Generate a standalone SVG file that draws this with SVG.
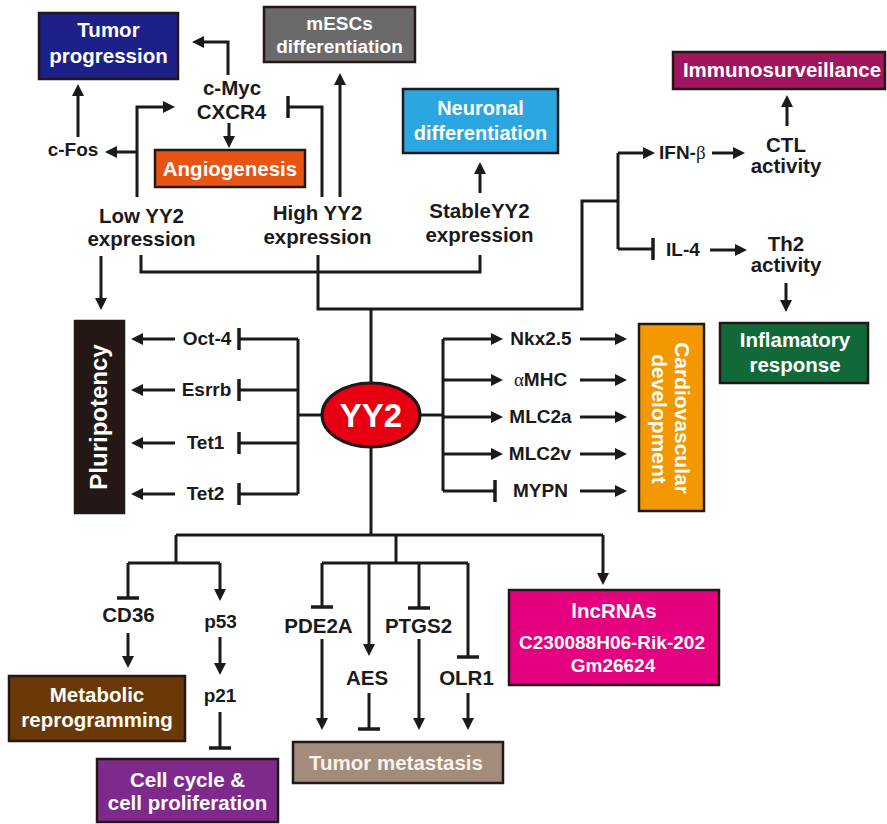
<svg xmlns="http://www.w3.org/2000/svg" width="887" height="824" viewBox="0 0 887 824">
<style>
.t{font-family:"Liberation Sans",Arial,sans-serif;font-weight:bold;font-size:20.5px;fill:#1a1a1a;text-anchor:middle}
.s{font-size:19px}
.w{fill:#fff}
.g{font-family:"Liberation Serif","DejaVu Serif",serif;font-weight:normal}
.box{stroke:#231815;stroke-width:2.5}
.c{fill:none;stroke:#1a1a1a;stroke-width:3;stroke-linejoin:miter}
.a{marker-end:url(#ah)}
.i{marker-end:url(#tb)}
</style>
<defs>
<marker id="ah" viewBox="0 -6 12 12" refX="1" refY="0" markerWidth="12" markerHeight="12" markerUnits="userSpaceOnUse" orient="auto"><path d="M0,-6 L12,0 L0,6 z" fill="#1a1a1a"/></marker>
<marker id="tb" viewBox="-2 -12 4 24" refX="0" refY="0" markerWidth="4" markerHeight="24" markerUnits="userSpaceOnUse" orient="auto"><rect x="-1.75" y="-11" width="3.5" height="22" fill="#1a1a1a"/></marker>
</defs>
<rect width="887" height="824" fill="#fff"/>

<g id="connectors">
<!-- top left -->
<path class="c a" d="M137,197 V107 H164"/>
<path class="c a" d="M137,152 H116"/>
<path class="c a" d="M78,137 V95"/>
<path class="c a" d="M228,75 V42 H203"/>
<path class="c a" d="M229,123 V137"/>
<path class="c i" d="M322,197 V107 H288"/>
<path class="c a" d="M340,197 V84"/>
<path class="c a" d="M480,193 V173"/>
<path class="c a" d="M101,256 V299"/>
<!-- expression trunk -->
<path class="c" d="M141,255 V272 H480 V255"/>
<path class="c" d="M318,255 V309 H582 V201 H618"/>
<path class="c" d="M371,309 V383"/>
<path class="c" d="M618,153 V249"/>
<path class="c a" d="M618,153 H644"/>
<path class="c i" d="M618,249 H653"/>
<path class="c a" d="M712,153 H734"/>
<path class="c a" d="M710,250 H736"/>
<path class="c a" d="M787,126 V106"/>
<path class="c a" d="M786,283 V301"/>
<!-- left pluripotency -->
<path class="c" d="M322,415 H298"/>
<path class="c" d="M298,339 V494"/>
<path class="c i" d="M298,339 H239"/>
<path class="c i" d="M298,390 H239"/>
<path class="c i" d="M298,443 H239"/>
<path class="c i" d="M298,494 H239"/>
<path class="c a" d="M175,339 H142"/>
<path class="c a" d="M175,390 H142"/>
<path class="c a" d="M175,443 H142"/>
<path class="c a" d="M175,494 H142"/>
<!-- right cardio -->
<path class="c" d="M420,415 H443"/>
<path class="c" d="M443,339 V491"/>
<path class="c a" d="M443,339 H492"/>
<path class="c a" d="M443,380 H492"/>
<path class="c a" d="M443,417 H492"/>
<path class="c a" d="M443,454 H492"/>
<path class="c i" d="M443,491 H495"/>
<path class="c a" d="M580,339 H616"/>
<path class="c a" d="M580,380 H616"/>
<path class="c a" d="M580,417 H616"/>
<path class="c a" d="M580,454 H616"/>
<path class="c a" d="M580,491 H616"/>
<!-- bottom -->
<path class="c" d="M371,447 V535"/>
<path class="c" d="M176,535 H603"/>
<path class="c a" d="M603,535 V574"/>
<path class="c" d="M176,535 V563"/>
<path class="c" d="M128,563 H220"/>
<path class="c i" d="M128,563 V598"/>
<path class="c a" d="M220,563 V590"/>
<path class="c a" d="M128,633 V657"/>
<path class="c a" d="M220,637 V664"/>
<path class="c i" d="M220,712 V748"/>
<path class="c" d="M396,535 V563"/>
<path class="c" d="M322,563 H468"/>
<path class="c i" d="M322,563 V607"/>
<path class="c a" d="M369,563 V645"/>
<path class="c i" d="M419,563 V608"/>
<path class="c i" d="M468,563 V657"/>
<path class="c a" d="M322,639 V719"/>
<path class="c i" d="M369,693 V729"/>
<path class="c a" d="M419,639 V719"/>
<path class="c a" d="M468,693 V719"/>
</g>

<g id="yy2">
<ellipse cx="371" cy="415" rx="49" ry="32" fill="#e60012" stroke="#1a1a1a" stroke-width="3"/>
<text class="t w" x="371" y="427" style="font-size:33px">YY2</text>
</g>

<g id="tumor-progression">
<rect class="box" x="39" y="13" width="139" height="66" fill="#1d2088"/>
<text class="t w" x="108.5" y="37">Tumor</text>
<text class="t w" x="108.5" y="63">progression</text>
</g>
<g id="cmyc"><text class="t" x="232" y="95">c-Myc</text><text class="t" x="231.5" y="119">CXCR4</text></g>
<g id="cfos"><text class="t s" x="73" y="156">c-Fos</text></g>
<g id="angiogenesis">
<rect class="box" x="155" y="150" width="150" height="37" fill="#e85513"/>
<text class="t w" x="230" y="176">Angiogenesis</text>
</g>
<g id="mescs">
<rect class="box" x="264" y="7" width="151" height="55" fill="#6a6a6a"/>
<text class="t w s" x="339.5" y="30">mESCs</text>
<text class="t w s" x="339.5" y="53">differentiation</text>
</g>
<g id="neuronal">
<rect class="box" x="403" y="89" width="155" height="64" fill="#2ca6e0"/>
<text class="t w" x="480.5" y="115" style="font-size:20px">Neuronal</text>
<text class="t w" x="480.5" y="140" style="font-size:20px">differentiation</text>
</g>
<g id="low-yy2"><text class="t" x="141.5" y="223">Low YY2</text><text class="t" x="141.5" y="246">expression</text></g>
<g id="high-yy2"><text class="t" x="317.5" y="220">High YY2</text><text class="t" x="317.5" y="244">expression</text></g>
<g id="stable-yy2"><text class="t" x="479.5" y="218">StableYY2</text><text class="t" x="479.5" y="242">expression</text></g>

<g id="immunosurveillance">
<rect class="box" x="673" y="52" width="212" height="37" fill="#a0155d"/>
<text class="t w" x="782" y="77">Immunosurveillance</text>
</g>
<g id="ifnb"><text class="t s" x="659" y="159" style="text-anchor:start">IFN-<tspan class="g">β</tspan></text></g>
<g id="il4"><text class="t s" x="666" y="256" style="text-anchor:start">IL-4</text></g>
<g id="ctl"><text class="t" x="786" y="152">CTL</text><text class="t" x="786" y="173">activity</text></g>
<g id="th2"><text class="t" x="786" y="251">Th2</text><text class="t" x="786" y="272">activity</text></g>
<g id="inflamatory">
<rect class="box" x="720" y="323" width="148" height="60" fill="#11693a"/>
<text class="t w" x="795" y="347">Inflamatory</text>
<text class="t w" x="795" y="372">response</text>
</g>

<g id="pluripotency">
<rect class="box" x="75" y="321" width="49" height="192" fill="#231815"/>
<text class="t w" transform="translate(107,417) rotate(-90)" x="0" y="0" style="font-size:24px">Pluripotency</text>
</g>
<g id="oct4"><text class="t s" x="207" y="345">Oct-4</text></g>
<g id="esrrb"><text class="t s" x="206.5" y="396">Esrrb</text></g>
<g id="tet1"><text class="t s" x="205.5" y="449">Tet1</text></g>
<g id="tet2"><text class="t s" x="205.5" y="500">Tet2</text></g>

<g id="nkx25"><text class="t s" x="541" y="345">Nkx2.5</text></g>
<g id="amhc"><text class="t s" x="540.5" y="386"><tspan class="g">α</tspan>MHC</text></g>
<g id="mlc2a"><text class="t s" x="540.5" y="423">MLC2a</text></g>
<g id="mlc2v"><text class="t s" x="540" y="460">MLC2v</text></g>
<g id="mypn"><text class="t s" x="540.5" y="497">MYPN</text></g>
<g id="cardiovascular">
<rect class="box" x="639" y="324" width="65" height="187" fill="#f39800"/>
<text class="t w" transform="translate(675,418) rotate(90)" x="0" y="0" style="font-size:21px">Cardiovascular</text>
<text class="t w" transform="translate(652,419) rotate(90)" x="0" y="0" style="font-size:21px">development</text>
</g>

<g id="cd36"><text class="t" x="128.5" y="622">CD36</text></g>
<g id="p53"><text class="t s" x="220.5" y="628">p53</text></g>
<g id="p21"><text class="t s" x="220" y="702">p21</text></g>
<g id="metabolic">
<rect class="box" x="9" y="676" width="176" height="65" fill="#6a3906"/>
<text class="t w" x="97" y="702">Metabolic</text>
<text class="t w" x="97" y="727">reprogramming</text>
</g>
<g id="cell-cycle">
<rect class="box" x="97" y="759" width="181" height="63" fill="#7e2a8c"/>
<text class="t w" x="187.5" y="787">Cell cycle &amp;</text>
<text class="t w" x="187.5" y="810">cell proliferation</text>
</g>
<g id="pde2a"><text class="t" x="318.5" y="633">PDE2A</text></g>
<g id="aes"><text class="t" x="367" y="685">AES</text></g>
<g id="ptgs2"><text class="t" x="418.5" y="633">PTGS2</text></g>
<g id="olr1"><text class="t" x="466.5" y="685">OLR1</text></g>
<g id="tumor-metastasis">
<rect class="box" x="293" y="742" width="210" height="41" fill="#a38c7c"/>
<text class="t" x="396" y="770" style="fill:#f7f3ee">Tumor metastasis</text>
</g>
<g id="lncrnas">
<rect class="box" x="509" y="590" width="210" height="95" fill="#e4007f"/>
<text class="t w" x="614" y="618">lncRNAs</text>
<text class="t w s" x="612" y="649">C230088H06-Rik-202</text>
<text class="t w s" x="613" y="672">Gm26624</text>
</g>
</svg>
